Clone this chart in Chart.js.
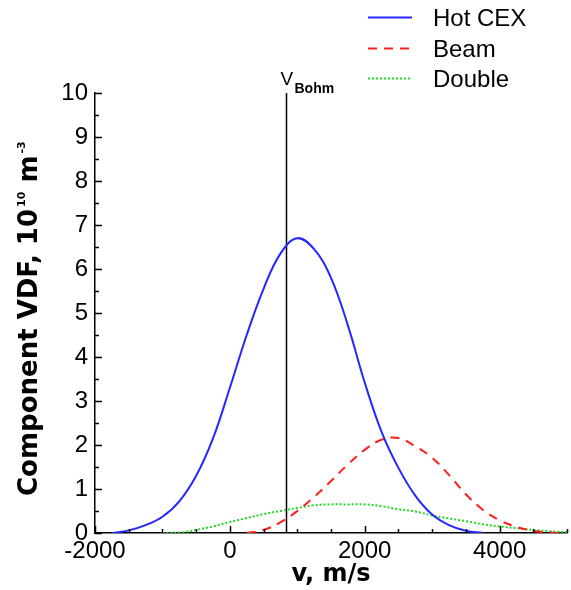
<!DOCTYPE html>
<html><head><meta charset="utf-8">
<script src="https://cdn.jsdelivr.net/npm/chart.js@4.4.1/dist/chart.umd.min.js"></script>
<style>html,body{margin:0;padding:0;background:#fff;}canvas{display:block;}</style>
</head><body>
<canvas id="c" width="571" height="590" style="width:571px;height:590px"></canvas>
<script>
// ---- data (velocity in m/s, VDF in 1e10 m^-3) ----
const hotCexV = [-1750,-1500,-1250,-1000,-750,-500,-250,0,250,500,750,1000,1250,1500,1750,2000,2250,2500,2750,3000,3250,3500,3750];
const hotCexF = [0.00,0.06,0.18,0.37,0.72,1.30,2.15,3.30,4.50,5.55,6.35,6.70,6.45,5.80,4.72,3.42,2.30,1.48,0.85,0.42,0.18,0.05,0.00];
const beamV = [250,500,750,1000,1250,1500,1750,2000,2250,2500,2750,3000,3250,3500,3750,4000,4250,4500,4750,4900];
const beamF = [0.00,0.07,0.24,0.50,0.82,1.18,1.56,1.89,2.12,2.16,1.97,1.71,1.32,0.88,0.53,0.29,0.14,0.05,0.01,0.00];
const doubleV = [-1000,-750,-500,-250,0,250,500,750,1000,1250,1500,1750,2000,2250,2500,2750,3000,3250,3500,3750,4000,4250,4500,4750,5000];
const doubleF = [0.00,0.01,0.07,0.15,0.25,0.34,0.43,0.50,0.57,0.63,0.65,0.65,0.65,0.61,0.54,0.49,0.40,0.33,0.27,0.20,0.15,0.11,0.07,0.04,0.02];
const bohmV = 840;
const bohmRange = [0, 10];
const seriesNames = ['Hot CEX', 'Beam', 'Double'];
const xTickValues = [-2000, 0, 2000, 4000];
const yTickValues = [0,1,2,3,4,5,6,7,8,9,10];
const xMinorStep = 500;
const yMinorStep = 0.5;

const pts = (xs, ys) => xs.map((v, i) => ({x: v, y: ys[i]}));
const TICK_FONT = {family: "'Liberation Sans', Arial, sans-serif", size: 24};

const decor = {
  id: 'decor',
  afterDraw(chart) {
    const ctx = chart.ctx, xs = chart.scales.x, ys = chart.scales.y, ca = chart.chartArea;
    ctx.save();
    ctx.strokeStyle = '#000'; ctx.lineWidth = 1.5;
    // inward ticks on x axis
    for (let v = xs.min; v <= xs.max + 1e-6; v += xMinorStep) {
      const px = Math.round(xs.getPixelForValue(v)) + 0.5;
      const len = xTickValues.includes(v) ? 7 : 4;
      ctx.beginPath(); ctx.moveTo(px, ca.bottom); ctx.lineTo(px, ca.bottom - len); ctx.stroke();
    }
    // inward ticks on y axis
    for (let v = ys.min; v <= ys.max + 1e-6; v += yMinorStep) {
      const py = Math.round(ys.getPixelForValue(v)) + 0.5;
      const len = yTickValues.includes(v) ? 7 : 4;
      ctx.beginPath(); ctx.moveTo(ca.left, py); ctx.lineTo(ca.left + len, py); ctx.stroke();
    }
    // V_Bohm label
    const bx = xs.getPixelForValue(bohmV);
    ctx.fillStyle = '#000';
    ctx.textBaseline = 'alphabetic'; ctx.textAlign = 'left';
    ctx.font = "19px 'Liberation Sans', Arial, sans-serif";
    ctx.fillText('V', bx - 6, 85);
    ctx.font = "bold 14px 'Liberation Sans', Arial, sans-serif";
    ctx.fillText('Bohm', bx + 8, 93);
    // legend
    const ds = chart.data.datasets;
    const legY = [17, 48, 78];
    for (let i = 0; i < 3; i++) {
      const d = ds[i];
      ctx.save();
      ctx.strokeStyle = d.borderColor; ctx.lineWidth = d.borderWidth;
      ctx.setLineDash(d.borderDash || []);
      ctx.beginPath(); ctx.moveTo(368, legY[i] + 0.5); ctx.lineTo(412, legY[i] + 0.5); ctx.stroke();
      ctx.restore();
      ctx.fillStyle = '#000';
      ctx.font = "24px 'Liberation Sans', Arial, sans-serif";
      ctx.fillText(seriesNames[i], 433, legY[i] + 9);
    }
    // x axis title
    ctx.font = "bold 24px 'DejaVu Sans', sans-serif";
    ctx.textAlign = 'center';
    ctx.fillText('v, m/s', (ca.left + ca.right) / 2, 581);
    // y axis title with superscripts
    ctx.save();
    ctx.translate(37, 496);
    ctx.rotate(-Math.PI / 2);
    ctx.textAlign = 'left';
    let x = 0;
    const seg = (t, size, rise) => {
      ctx.font = "bold " + size + "px 'DejaVu Sans', sans-serif";
      ctx.fillText(t, x, -rise);
      x += ctx.measureText(t).width;
    };
    seg('Component VDF, 10', 26, 0);
    x += 2;
    seg('10', 11, 12);
    seg(' m', 26, 0);
    x += 2;
    seg('-3', 11, 12);
    ctx.restore();
    ctx.restore();
  }
};

new Chart(document.getElementById('c'), {
  type: 'line',
  data: {
    datasets: [
      {label: seriesNames[0], data: pts(hotCexV, hotCexF), borderColor: '#2626ff', borderWidth: 2, pointRadius: 0, tension: 0.4, fill: false},
      {label: seriesNames[1], data: pts(beamV, beamF), borderColor: '#ff1e1e', borderWidth: 2, borderDash: [9, 7], pointRadius: 0, tension: 0.4, fill: false},
      {label: seriesNames[2], data: pts(doubleV, doubleF), borderColor: '#1ed81e', borderWidth: 2, borderDash: [2, 2], pointRadius: 0, tension: 0.4, fill: false},
      {label: 'VBohm', data: [{x: bohmV, y: bohmRange[0]}, {x: bohmV, y: bohmRange[1]}], borderColor: '#000', borderWidth: 1.5, pointRadius: 0, fill: false}
    ]
  },
  options: {
    responsive: false, animation: false,
    layout: {padding: {top: 93, right: 4, left: 0, bottom: 0}},
    plugins: {legend: {display: false}, tooltip: {enabled: false}},
    scales: {
      x: {
        type: 'linear', min: -2000, max: 5000,
        grid: {display: false, drawTicks: false},
        border: {display: true, color: '#000', width: 1.5},
        afterBuildTicks: s => { s.ticks = xTickValues.map(v => ({value: v})); },
        afterFit: s => { s.height = 57; },
        ticks: {padding: 4, color: '#000', font: TICK_FONT, maxRotation: 0, autoSkip: false, callback: v => String(v)}
      },
      y: {
        type: 'linear', min: 0, max: 10,
        grid: {display: false, drawTicks: false},
        border: {display: true, color: '#000', width: 1.5},
        afterBuildTicks: s => { s.ticks = yTickValues.map(v => ({value: v})); },
        afterFit: s => { s.width = 95; },
        ticks: {padding: 7, color: '#000', font: TICK_FONT, autoSkip: false, callback: v => String(v)}
      }
    }
  },
  plugins: [decor]
});
</script>
</body></html>
